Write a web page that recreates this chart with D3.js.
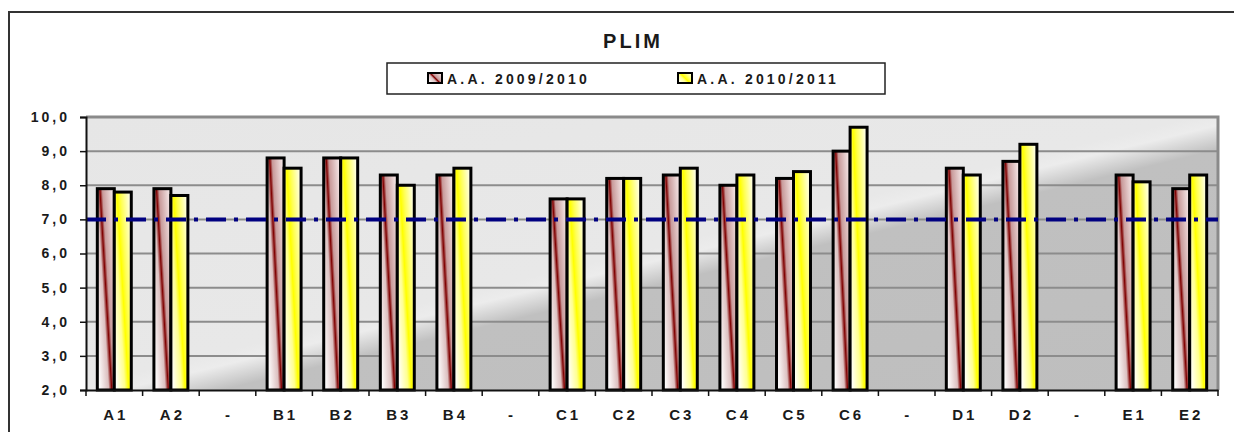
<!DOCTYPE html>
<html>
<head>
<meta charset="utf-8">
<script src="https://cdn.jsdelivr.net/npm/d3@7"></script>
<style>
  body { margin: 0; background: #fff; }
  text { font-family: "Liberation Sans", Arial, sans-serif; font-weight: bold; fill: #1a1a1a; }
</style>
</head>
<body>
<div id="chart"></div>
<script>
// categories along the x axis ("-" are empty separators)
let categories = ["A1","A2","-","B1","B2","B3","B4","-","C1","C2","C3","C4","C5","C6","-","D1","D2","-","E1","E2"];
let seriesNames = ["A.A. 2009/2010", "A.A. 2010/2011"];
let values0910 = [7.9,7.9,null,8.8,8.8,8.3,8.3,null,7.6,8.2,8.3,8.0,8.2,9.0,null,8.5,8.7,null,8.3,7.9];
let values1011 = [7.8,7.7,null,8.5,8.8,8.0,8.5,null,7.6,8.2,8.5,8.3,8.4,9.7,null,8.3,9.2,null,8.1,8.3];
let yTicks = [2,3,4,5,6,7,8,9,10];
let threshold = 7;

let width = 1234, height = 432;
let margin = { top: 117, left: 86, right: 16, bottom: 42 };
let bodyWidth = width - margin.left - margin.right;
let bodyHeight = height - margin.top - margin.bottom;

let svg = d3.select("#chart").append("svg")
    .attr("width", width).attr("height", height);

let defs = svg.append("defs");

// plot background: light grey turning dark diagonally
let bg = defs.append("linearGradient").attr("id", "bgGrad")
    .attr("x1", 0).attr("y1", 0).attr("x2", 1).attr("y2", 1);
bg.append("stop").attr("offset", 0).attr("stop-color", "#e6e6e6");
bg.append("stop").attr("offset", 0.49).attr("stop-color", "#e8e8e8");
bg.append("stop").attr("offset", 0.515).attr("stop-color", "#ececec");
bg.append("stop").attr("offset", 0.56).attr("stop-color", "#c0c0c0");
bg.append("stop").attr("offset", 1).attr("stop-color", "#bebebe");

function barGradient(id, stops){
    let g = defs.append("linearGradient").attr("id", id)
        .attr("x1", 0).attr("y1", 0.85).attr("x2", 1).attr("y2", 0.15);
    stops.forEach(s => g.append("stop").attr("offset", s[0]).attr("stop-color", s[1]));
}
barGradient("maroonGrad", [[0,"#ffffff"],[0.38,"#dcc0c0"],[0.5,"#800000"],[0.6,"#c89a9a"],[1,"#f4e6e6"]]);
barGradient("yellowGrad", [[0,"#ffffff"],[0.35,"#ffff90"],[0.5,"#ffff00"],[0.65,"#ffff50"],[1,"#ffffe8"]]);
let fills = ["url(#maroonGrad)", "url(#yellowGrad)"];

// outer frame
svg.append("rect")
    .attr("x", 9).attr("y", 12).attr("width", 1260).attr("height", 460)
    .attr("fill", "none").attr("stroke", "#333").attr("stroke-width", 2);

// title
svg.append("text")
    .attr("x", 633).attr("y", 48)
    .attr("text-anchor", "middle")
    .style("font-size", "20px").style("letter-spacing", "3px")
    .text("PLIM");

// legend
let legend = svg.append("g");
legend.append("rect")
    .attr("x", 387).attr("y", 63).attr("width", 498).attr("height", 31)
    .attr("fill", "#fff").attr("stroke", "#222").attr("stroke-width", 1.5);
let legendX = [428, 678];
seriesNames.forEach(function(name, i){
    legend.append("rect")
        .attr("x", legendX[i]).attr("y", 73).attr("width", 14).attr("height", 10)
        .attr("fill", fills[i]).attr("stroke", "#000").attr("stroke-width", 2);
    legend.append("text")
        .attr("x", legendX[i] + 19).attr("y", 84)
        .style("font-size", "14px").style("letter-spacing", "3.2px")
        .text(name);
});

let container = svg.append("g")
    .attr("transform", "translate(" + [margin.left, margin.top] + ")");

let x0 = d3.scaleBand().domain(d3.range(categories.length))
    .range([0, bodyWidth]).paddingInner(0.4).paddingOuter(0.2);
let x1 = d3.scaleBand().domain([0, 1]).range([0, x0.bandwidth()]);
let y = d3.scaleLinear().domain([2, 10]).range([bodyHeight, 0]);

container.append("rect")
    .attr("width", bodyWidth).attr("height", bodyHeight)
    .attr("fill", "url(#bgGrad)");

// grid lines
container.selectAll(".grid")
    .data(yTicks.slice(1, -1))
    .enter().append("line")
    .attr("x1", 0).attr("x2", bodyWidth)
    .attr("y1", d => y(d)).attr("y2", d => y(d))
    .attr("stroke", "#8c8c8c").attr("stroke-width", 2);

// top and right border of plot area
container.append("path")
    .attr("d", "M0," + y(10) + "H" + bodyWidth + "V" + y(2))
    .attr("fill", "none").attr("stroke", "#8a8a8a").attr("stroke-width", 3);

// bars
let rows = categories.map((c, i) => ({ i: i, vals: [values0910[i], values1011[i]] }));
let groups = container.selectAll(".grp")
    .data(rows).enter().append("g")
    .attr("transform", d => "translate(" + x0(d.i) + ",0)");
groups.selectAll("rect")
    .data(d => d.vals.map((v, k) => ({ k: k, v: v })).filter(e => e.v != null))
    .enter().append("rect")
    .attr("x", d => x1(d.k))
    .attr("width", x1.bandwidth())
    .attr("y", d => y(d.v))
    .attr("height", d => y(2) - y(d.v))
    .attr("fill", d => fills[d.k])
    .attr("stroke", "#000").attr("stroke-width", 3);

// threshold dash-dot line
container.append("line")
    .attr("x1", 0).attr("x2", bodyWidth)
    .attr("y1", y(threshold)).attr("y2", y(threshold))
    .attr("stroke", "#000080").attr("stroke-width", 4)
    .attr("stroke-dasharray", "20,8,4,8");

// y axis
let yAxis = container.append("g")
    .call(d3.axisLeft(y).tickValues(yTicks).tickSize(6).tickPadding(10)
        .tickFormat(d => d.toFixed(1).replace(".", ",")));
yAxis.select(".domain").attr("stroke", "#111").attr("stroke-width", 2);
yAxis.selectAll(".tick line").attr("stroke", "#111").attr("stroke-width", 1.5);
yAxis.selectAll("text")
    .style("font-size", "14px").style("letter-spacing", "3px")
    .style("font-family", "'Liberation Sans', Arial, sans-serif").attr("fill", "#1a1a1a");

// x axis with ticks between the categories
let xAxis = container.append("g")
    .attr("transform", "translate(0," + bodyHeight + ")")
    .call(d3.axisBottom(x0).tickSize(0).tickPadding(19).tickFormat(i => categories[i]));
xAxis.select(".domain").attr("stroke", "#111").attr("stroke-width", 2);
xAxis.selectAll("text")
    .style("font-size", "15px").style("letter-spacing", "3px")
    .style("font-family", "'Liberation Sans', Arial, sans-serif").attr("fill", "#1a1a1a")
    .attr("dx", "1.5px");

let boundaries = d3.range(categories.length).map(i => x0(i) - x0.step() * 0.2);
boundaries.push(bodyWidth);
xAxis.selectAll(".sep")
    .data(boundaries).enter().append("line")
    .attr("x1", d => d).attr("x2", d => d)
    .attr("y1", 0).attr("y2", 6)
    .attr("stroke", "#111").attr("stroke-width", 1.5);
</script>
</body>
</html>
